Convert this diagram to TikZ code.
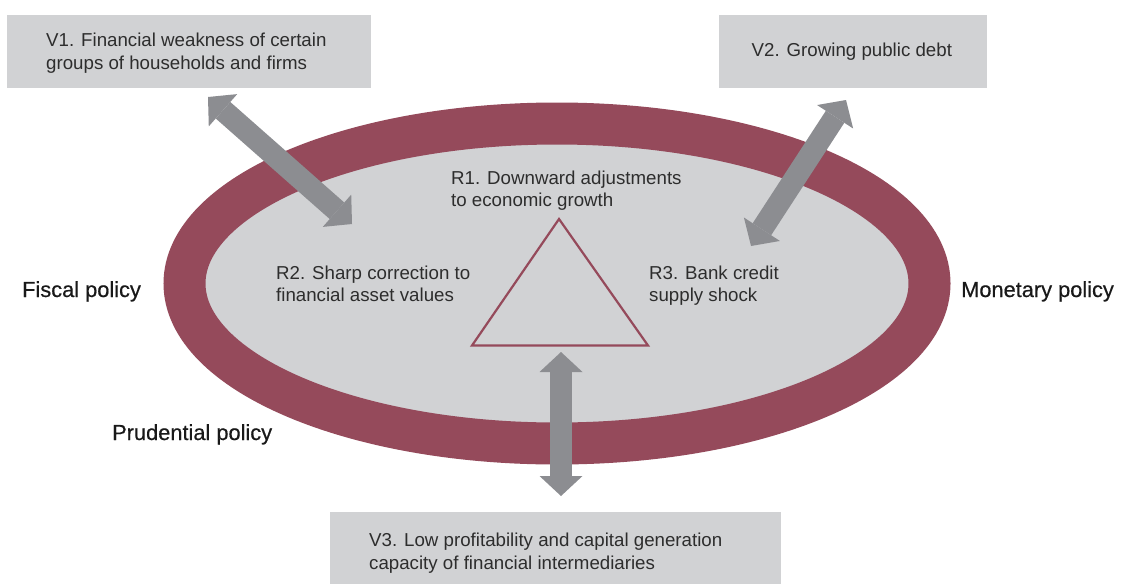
\documentclass[tikz,border=0pt]{standalone}
\usepackage{fontspec}
\setmainfont{Liberation Sans}
\newfontfamily\polfont[FakeBold=0.45]{Liberation Sans}
\usetikzlibrary{arrows.meta}
\definecolor{ringcol}{RGB}{149,74,91}
\definecolor{innercol}{RGB}{209,210,212}
\definecolor{boxcol}{RGB}{209,210,212}
\definecolor{arrcol}{RGB}{140,141,145}
\definecolor{txtcol}{RGB}{45,45,45}
\definecolor{polcol}{RGB}{25,25,25}
\newcommand{\twolines}[2]{\begin{tabular}[t]{@{}l@{}}#1\\#2\end{tabular}}
\begin{document}
\begin{tikzpicture}[x=1pt,y=-1pt,
  boxtext/.style={anchor=base west, inner sep=0pt, text=txtcol,
    font=\fontsize{18.7}{22.7}\selectfont},
  poltext/.style={anchor=base west, inner sep=0pt, text=polcol,
    font=\polfont\fontsize{21.8}{26}\selectfont},
  vbox/.style={fill=boxcol, draw=none, inner sep=0pt, anchor=north west},
  dblarrow/.style={draw=arrcol, line width=22pt,
    {Triangle[width=43pt,length=20pt,line width=0pt]}-{Triangle[width=43pt,length=20pt,line width=0pt]}}
]
\useasboundingbox (0,0) rectangle (1121,584);
\fill[white] (0,0) rectangle (1121,584);
% ring
\draw[ringcol, line width=42pt, fill=innercol] (557,283.5) ellipse [x radius=372.5pt, y radius=160pt];
% triangle
\draw[ringcol, line width=2.2pt, line join=miter] (559,219) -- (648,345.5) -- (472,345.5) -- cycle;
% boxes
\node[vbox, minimum width=364pt, minimum height=73pt] (v1box) at (7,15) {};
\node[vbox, minimum width=268pt, minimum height=73pt] (v2box) at (719,15) {};
\node[vbox, minimum width=451pt, minimum height=72pt] (v3box) at (330,512) {};
% texts
\node[boxtext] (v1) at (46,46.7) {\twolines{V1. Financial weakness of certain}{groups of households and firms}};
\node[boxtext] (v2) at (751.5,56.7) {V2. Growing public debt};
\node[boxtext] (v3) at (369,546.7) {\twolines{V3. Low profitability and capital generation}{capacity of financial intermediaries}};
\node[boxtext] (r1) at (451,184) {\twolines{R1. Downward adjustments}{to economic growth}};
\node[boxtext] (r2) at (276,279) {\twolines{R2. Sharp correction to}{financial asset values}};
\node[boxtext] (r3) at (649,279) {\twolines{R3. Bank credit}{supply shock}};
\node[poltext] (fiscal) at (22,297) {Fiscal policy};
\node[poltext] (monetary) at (961,297) {Monetary policy};
\node[poltext] (prudential) at (112,440) {Prudential policy};
% arrow end points
\coordinate (a1s) at (208,97);
\coordinate (a1e) at (352,224);
\coordinate (a2s) at (846,100);
\coordinate (a2e) at (751,246);
\coordinate (a3s) at (561,352);
\coordinate (a3e) at (561,496);
\draw[dblarrow] (a1s) -- (a1e);
\draw[dblarrow] (a2s) -- (a2e);
\draw[dblarrow] (a3s) -- (a3e);
\end{tikzpicture}
\end{document}
